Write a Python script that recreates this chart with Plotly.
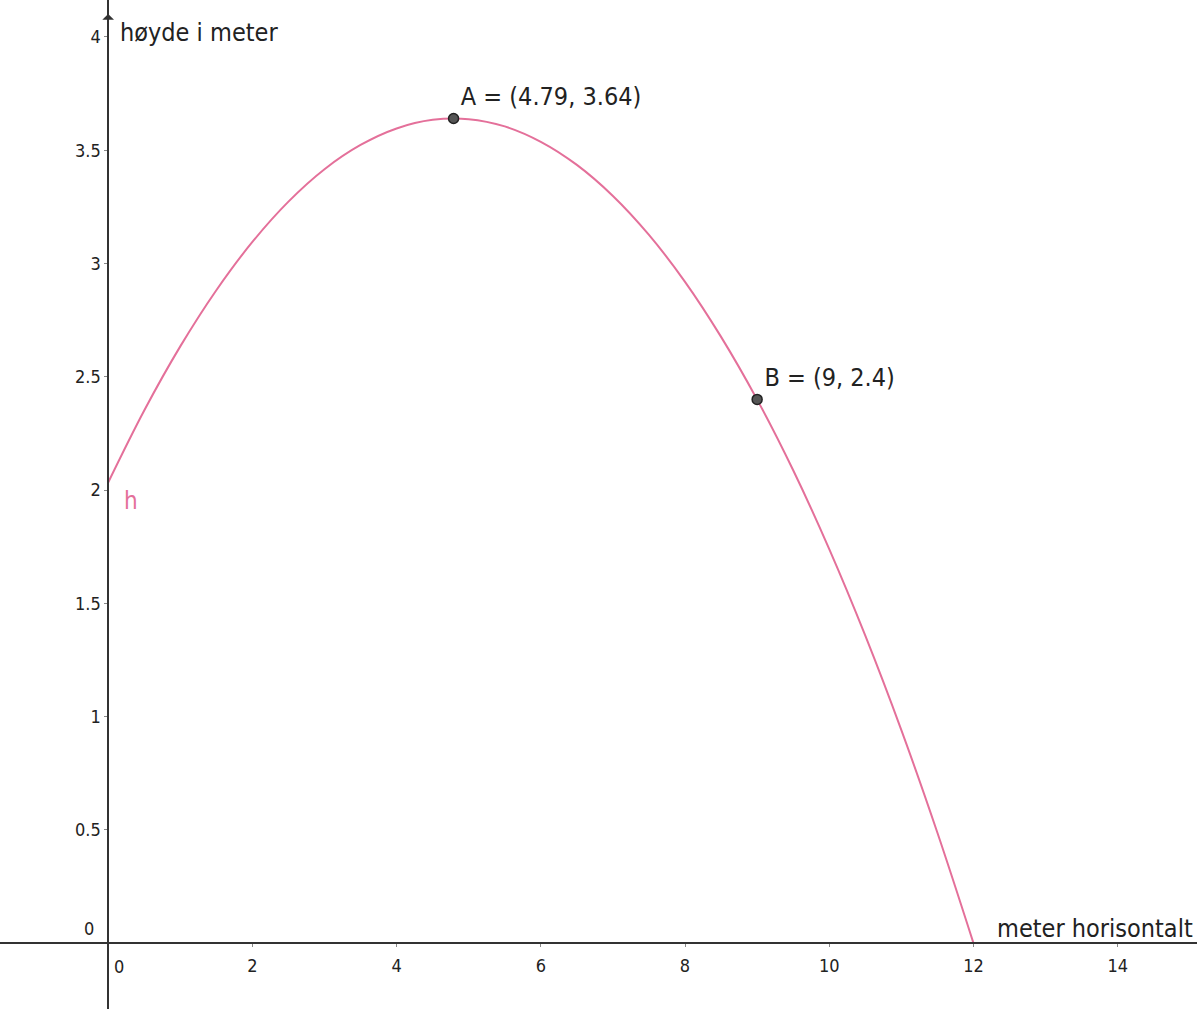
import plotly.graph_objects as go

# Curve h(x): height (m) at horizontal distances (m)
curve_x = [0, 0.5, 1, 1.5, 2, 2.5, 3, 3.5, 4, 4.5, 5, 5.5, 6, 6.5, 7, 7.5,
           8, 8.5, 9, 9.5, 10, 10.5, 11, 11.5, 12]
curve_y = [2.033, 2.351, 2.634, 2.882, 3.095, 3.273, 3.416, 3.523, 3.596, 3.634, 3.637,
           3.605, 3.537, 3.435, 3.298, 3.126, 2.919, 2.676, 2.399, 2.087, 1.739,
           1.357, 0.940, 0.487, 0.0]

# Labelled points
point_names = ["A", "B"]
point_x = [4.79, 9]
point_y = [3.64, 2.4]
point_text = ["A = (4.79, 3.64)", "B = (9, 2.4)"]

# Axis ticks
x_ticks = [2, 4, 6, 8, 10, 12, 14]
y_ticks = [0.5, 1, 1.5, 2, 2.5, 3, 3.5, 4]
y_tick_text = ["0.5", "1", "1.5", "2", "2.5", "3", "3.5", "4"]

x_range = [-1.50, 15.10]
y_range = [-0.291, 4.163]

FONT = "DejaVu Sans Condensed, Liberation Sans Narrow, DejaVu Sans, sans-serif"
PINK = "#e4709a"
AXIS = "#333333"
TXT = "#222222"

fig = go.Figure()

fig.add_trace(go.Scatter(
    x=curve_x, y=curve_y, mode="lines", line=dict(color=PINK, width=2, shape="spline"),
    hoverinfo="skip", showlegend=False))

fig.add_trace(go.Scatter(
    x=point_x, y=point_y, mode="markers+text",
    marker=dict(size=10, color="#555555", line=dict(color="#222222", width=1.5)),
    text=point_text, textposition="top right",
    textfont=dict(family=FONT, size=25, color=TXT),
    showlegend=False))

x_pos = (0 - y_range[0]) / (y_range[1] - y_range[0])
y_pos = (0 - x_range[0]) / (x_range[1] - x_range[0])

fig.update_layout(
    width=1197, height=1009, autosize=False,
    margin=dict(l=0, r=0, t=0, b=0, pad=0),
    paper_bgcolor="white", plot_bgcolor="white",
    font=dict(family=FONT, color=TXT),
    xaxis=dict(
        range=x_range, showgrid=False, zeroline=False,
        anchor="free", position=x_pos,
        showline=True, linecolor=AXIS, linewidth=1.5,
        tickmode="array", tickvals=x_ticks, ticktext=[str(v) for v in x_ticks],
        ticks="outside", ticklen=3, tickcolor="#888888",
        ticklabelstandoff=4,
        tickfont=dict(family=FONT, size=18, color=TXT),
    ),
    yaxis=dict(
        range=y_range, showgrid=False, zeroline=False,
        anchor="free", position=y_pos,
        showline=True, linecolor=AXIS, linewidth=1.5,
        tickmode="array", tickvals=y_ticks, ticktext=y_tick_text,
        ticks="outside", ticklen=3, tickcolor="#888888",
        tickfont=dict(family=FONT, size=18, color=TXT),
    ),
)

# zero labels
fig.add_annotation(x=0, y=0, text="0", showarrow=False, xanchor="left", yanchor="top",
                   xshift=4, yshift=-11, font=dict(family=FONT, size=18, color=TXT))
fig.add_annotation(x=0, y=0, text="0", showarrow=False, xanchor="right", yanchor="bottom",
                   xshift=-12, yshift=2, font=dict(family=FONT, size=18, color=TXT))

# axis titles
fig.add_annotation(x=0, y=y_range[1], text="høyde i meter", showarrow=False,
                   xanchor="left", yanchor="top", xshift=10, yshift=-16,
                   font=dict(family=FONT, size=25, color=TXT))
fig.add_annotation(x=x_range[1], y=0, text="meter horisontalt", showarrow=False,
                   xanchor="right", yanchor="bottom", xshift=-2, yshift=-2,
                   font=dict(family=FONT, size=25, color=TXT))

# y axis arrow
fig.add_annotation(x=0, y=y_range[1], ax=0, ay=30, text="", showarrow=True,
                   arrowhead=1, arrowsize=1.3, arrowwidth=1.5, arrowcolor=AXIS, yshift=-14)

# function label
fig.add_annotation(x=0, y=curve_y[0], text="h", showarrow=False, xanchor="left",
                   yanchor="top", xshift=14, yshift=-2,
                   font=dict(family=FONT, size=24, color=PINK))

fig.write_html("out.html", config={"displayModeBar": False},
               post_script="document.body.style.margin='0';")
